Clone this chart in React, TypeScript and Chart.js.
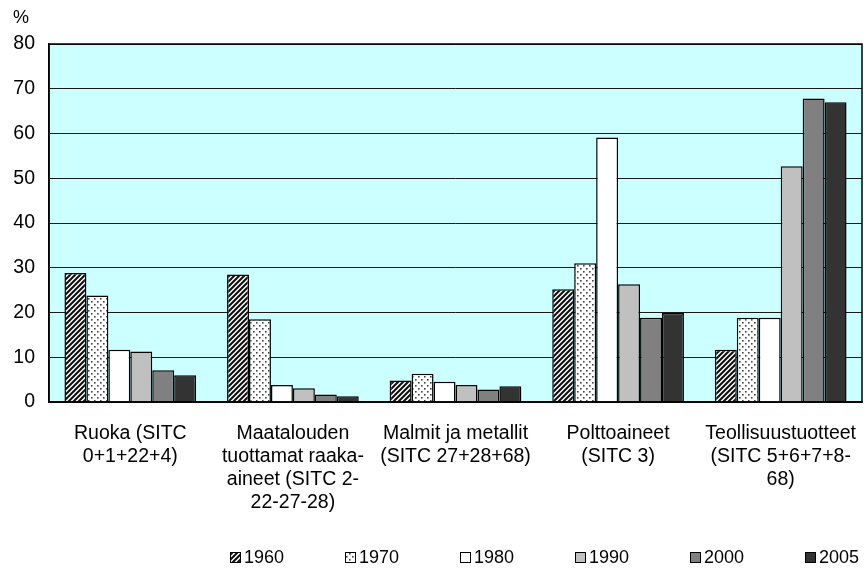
import React, { useEffect, useRef } from "react";
import { Chart, registerables } from "chart.js";

Chart.register(...registerables);

const categories: string[][] = [
  ["Ruoka (SITC", "0+1+22+4)"],
  ["Maatalouden", "tuottamat raaka-", "aineet (SITC 2-", "22-27-28)"],
  ["Malmit ja metallit", "(SITC 27+28+68)"],
  ["Polttoaineet", "(SITC 3)"],
  ["Teollisuustuotteet", "(SITC 5+6+7+8-", "68)"],
];
const years = ["1960", "1970", "1980", "1990", "2000", "2005"];
const v1960 = [28.8, 28.5, 4.8, 25.2, 11.7];
const v1970 = [23.8, 18.5, 6.3, 31.0, 18.8];
const v1980 = [11.7, 3.8, 4.5, 59.1, 18.8];
const v1990 = [11.3, 3.1, 3.8, 26.3, 52.7];
const v2000 = [7.1, 1.7, 2.8, 18.8, 67.8];
const v2005 = [6.0, 1.3, 3.5, 19.9, 67.0];
const yMin = 0;
const yMax = 80;
const yStep = 10;
const yUnit = "%";

const FONT = "'Liberation Sans', Arial, sans-serif";

function stripePattern(ctx: CanvasRenderingContext2D) {
  const s = 5;
  const c = document.createElement("canvas");
  c.width = s;
  c.height = s;
  const g = c.getContext("2d")!;
  g.fillStyle = "#ffffff";
  g.fillRect(0, 0, s, s);
  g.strokeStyle = "#111111";
  g.lineWidth = 2.1;
  g.beginPath();
  g.moveTo(-2, s + 2);
  g.lineTo(s + 2, -2);
  g.moveTo(-2, 2 * s + 2);
  g.lineTo(2 * s + 2, -2);
  g.moveTo(-2, 2);
  g.lineTo(2, -2);
  g.stroke();
  return ctx.createPattern(c, "repeat")!;
}

function dotPattern(ctx: CanvasRenderingContext2D) {
  const s = 6;
  const c = document.createElement("canvas");
  c.width = s;
  c.height = s;
  const g = c.getContext("2d")!;
  g.fillStyle = "#ffffff";
  g.fillRect(0, 0, s, s);
  g.fillStyle = "#444444";
  g.fillRect(1, 1, 1.6, 1.6);
  g.fillRect(4, 4, 1.6, 1.6);
  return ctx.createPattern(c, "repeat")!;
}

export default function App() {
  const ref = useRef<HTMLCanvasElement>(null);

  useEffect(() => {
    const canvas = ref.current!;
    const ctx = canvas.getContext("2d")!;
    const fills: (string | CanvasPattern)[] = [
      stripePattern(ctx),
      dotPattern(ctx),
      "#ffffff",
      "#c0c0c0",
      "#808080",
      "#333333",
    ];
    const series = [v1960, v1970, v1980, v1990, v2000, v2005];

    const decor = {
      id: "decor",
      beforeDraw(chart: any) {
        const { ctx: c, chartArea: a } = chart;
        c.save();
        c.fillStyle = "#CCFFFF";
        c.fillRect(a.left, a.top, a.right - a.left, a.bottom - a.top);
        c.restore();
      },
      afterDraw(chart: any) {
        const { ctx: c, chartArea: a } = chart;
        c.save();
        c.strokeStyle = "#000000";
        c.lineWidth = 1.5;
        c.strokeRect(a.left, a.top, a.right - a.left, a.bottom - a.top);
        c.fillStyle = "#000000";
        c.font = `18px ${FONT}`;
        c.textAlign = "left";
        c.textBaseline = "middle";
        c.fillText(yUnit, 13, a.top - 26);
        // legend
        const ly = a.bottom + 155;
        const startX = 230;
        const stepX = 115;
        c.font = `18px ${FONT}`;
        years.forEach((y, i) => {
          const x = startX + i * stepX;
          c.fillStyle = fills[i] as any;
          c.fillRect(x, ly - 5, 10, 10);
          c.lineWidth = 1;
          c.strokeStyle = "#000";
          c.strokeRect(x + 0.5, ly - 4.5, 10, 10);
          c.fillStyle = "#000";
          c.fillText(y, x + 14, ly + 1);
        });
        c.restore();
      },
    };

    const chart = new Chart(canvas, {
      type: "bar",
      data: {
        labels: categories as any,
        datasets: years.map((y, i) => ({
          label: y,
          data: series[i],
          backgroundColor: fills[i] as any,
          borderColor: "#000000",
          borderWidth: 1.5,
          categoryPercentage: 0.81,
          barPercentage: 1.0,
        })),
      },
      options: {
        animation: false,
        responsive: true,
        maintainAspectRatio: false,
        layout: { padding: { top: 44, right: 2, left: 0, bottom: 0 } },
        plugins: {
          legend: { display: false },
          tooltip: { enabled: false },
        },
        scales: {
          x: {
            grid: { display: false, drawTicks: false },
            border: { display: true, color: "#000", width: 1.5 },
            ticks: {
              color: "#000",
              font: { family: FONT, size: 19.5, lineHeight: 1.18 },
              padding: 20,
              maxRotation: 0,
              autoSkip: false,
            },
            afterFit(scale: any) {
              scale.height = 169;
              scale.paddingLeft = 0;
              scale.paddingRight = 0;
            },
          },
          y: {
            min: yMin,
            max: yMax,
            ticks: {
              stepSize: yStep,
              color: "#000",
              font: { family: FONT, size: 19.5 },
              padding: 14,
            },
            grid: { color: "#1a1a1a", lineWidth: 1, drawTicks: false },
            border: { display: true, color: "#000", width: 1.5 },
            afterFit(scale: any) {
              scale.width = 49;
              scale.paddingTop = 0;
              scale.paddingBottom = 0;
            },
          },
        },
      },
      plugins: [decor],
    });
    return () => chart.destroy();
  }, []);

  return (
    <div style={{ position: "fixed", left: 0, top: 0, width: 864, height: 571, background: "#fff" }}>
      <canvas ref={ref} />
    </div>
  );
}
